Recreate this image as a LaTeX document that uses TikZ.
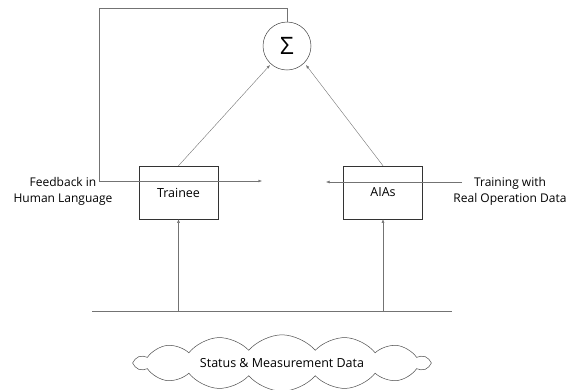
\documentclass[tikz,border=0pt]{standalone}
\usepackage{fontspec}
\setmainfont{Open Sans}
\usetikzlibrary{arrows.meta,shapes.symbols}
\begin{document}
\begin{tikzpicture}[x=1pt,y=-1pt,
  conn/.style={draw=black!55,line width=0.4pt,-{Latex[length=3.5pt,width=2.8pt]}},
  plain/.style={draw=black!55,line width=0.4pt},
  boxnode/.style={draw=black!80,line width=0.5pt,minimum width=79pt,minimum height=53pt,inner sep=0pt,font=\fontsize{12.5}{14}\selectfont},
  lbl/.style={align=center,font=\fontsize{12}{16}\selectfont,inner sep=0pt}]
\useasboundingbox (0,0) rectangle (571,389);
\node[draw=black!75,line width=0.5pt,circle,minimum size=48pt,inner sep=0pt] (sum) at (287,46) {\fontsize{24}{24}\selectfont Σ};
\node[boxnode] (trainee) at (178.5,192.5) {Trainee};
\node[boxnode] (aias) at (383,192.5) {AIAs};
\node[lbl] (fb) at (63,191) {Feedback in\\Human Language};
\node[lbl] (tr) at (510,191) {Training with\\Real Operation Data};
\node[cloud,draw=black!70,line width=0.5pt,cloud puffs=14,cloud puff arc=100,aspect=7,minimum width=294pt,minimum height=40pt,inner sep=0pt,font=\fontsize{12.5}{14}\selectfont] (cloud) at (282,363) {Status \& Measurement Data};
\coordinate (fbend) at (262,181);
\coordinate (trstart) at (462,182);
\coordinate (trend) at (326,182);
\coordinate (bl) at (92,311);
\coordinate (br) at (452,311);
\coordinate (tbot) at (178.5,311);
\coordinate (abot) at (383,311);
\draw[conn] (trainee.north) -- (270,65);
\draw[conn] (aias.north) -- (306,65);
\draw[conn] (sum.north) |- (99,8) |- (fbend);
\draw[conn] (trstart) -- (trend);
\draw[plain] (bl) -- (br);
\draw[conn] (tbot) -- (trainee.south);
\draw[conn] (abot) -- (aias.south);
\end{tikzpicture}
\end{document}
